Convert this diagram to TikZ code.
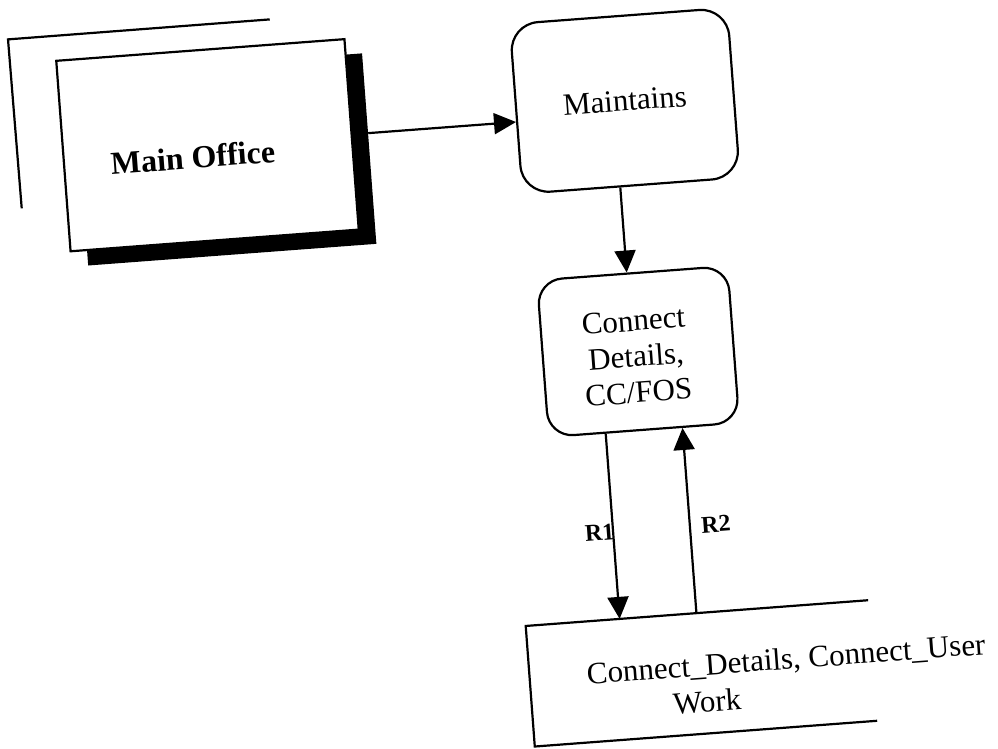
\documentclass[tikz,border=0pt]{standalone}
\usepackage{fontspec}
\setmainfont{Liberation Serif}
\usetikzlibrary{arrows.meta}
\begin{document}
\begin{tikzpicture}[x=1pt,y=-1pt,
  edge/.style={line width=2.2pt},
  arr/.style={line width=2.2pt,-{Triangle[length=22pt,width=21pt]}},
  entity/.style={draw,line width=2.2pt,fill=white,minimum width=289pt,minimum height=191pt,inner sep=0pt},
  shade/.style={fill=black,minimum width=289pt,minimum height=191pt,inner sep=0pt},
  proc/.style={draw,line width=2.2pt,fill=white,inner sep=0pt},
  txt/.style={inner sep=0pt,align=center,font=\fontsize{31}{36}\selectfont},
  flowlbl/.style={inner sep=0pt,anchor=base,font=\fontsize{24}{28}\selectfont\bfseries}]
\useasboundingbox (0,0) rectangle (998,749);
\begin{scope}[rotate around={4.3:(499,374.5)},transform shape]
  % duplicate marker of the external entity
  \coordinate (bk1) at (297,3.2);
  \coordinate (bk2) at (34.5,3.5);
  \coordinate (bk3) at (35.5,173);
  \draw[edge] (bk1) -- (bk2) -- (bk3);

  % external entity with its drop shadow
  \node[shade] (shadow) at (242,139.5) {};
  \node[entity] (office) at (225.5,124) {};
  \node[inner sep=0pt,anchor=base,font=\fontsize{32}{38}\selectfont\bfseries]
    (officetxt) at (210,146) {Main Office};

  % processes
  \node[proc,rounded corners=28pt,minimum width=218pt,minimum height=170pt]
    (maint) at (645,111) {};
  \node[txt] (mainttxt) at (645,111) {Maintains};
  \node[proc,rounded corners=25pt,minimum width=191pt,minimum height=157pt]
    (conn) at (639.5,362) {};
  \node[txt] (conntxt) at (637,367) {Connect\\Details,\\CC/FOS};

  % data store, open on the right
  \node[minimum width=343pt,minimum height=120.5pt,inner sep=0pt] (store) at (678.5,687.75) {};
  \draw[edge] (store.north east) -- (store.north west) -- (store.south west) -- (store.south east);
  \node[txt,anchor=base west] (storetxt) at (564,690) {Connect\_Details, Connect\_User};
  \node[txt,anchor=base] (storetxt2) at (682,727) {Work};

  % flows
  \draw[arr] (office.east -| shadow.east) -- (office.east -| maint.west);
  \draw[arr] ([xshift=-11pt]maint.south) -- ([xshift=-5.5pt]conn.north);
  \draw[arr] ([xshift=-38.5pt]conn.south) -- ([xshift=-38.5pt]conn.south |- store.north);
  \draw[arr] ([xshift=38.5pt]conn.south |- store.north) -- ([xshift=38.5pt]conn.south);
  \node[flowlbl] (r1) at (587.5,548) {R1};
  \node[flowlbl] (r2) at (704,548) {R2};
\end{scope}
\end{tikzpicture}
\end{document}
